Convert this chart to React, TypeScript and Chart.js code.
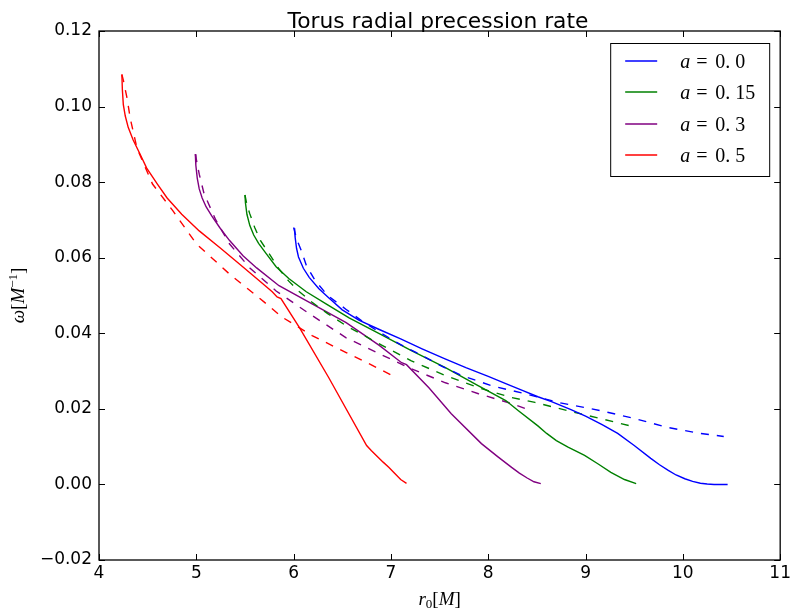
import { useEffect, useRef } from "react";
import Chart from "chart.js/auto";

const TITLE = "Torus radial precession rate";
const X_TICKS = [4, 5, 6, 7, 8, 9, 10, 11];
const Y_TICKS = [-0.02, 0, 0.02, 0.04, 0.06, 0.08, 0.1, 0.12];
const LEGEND_LABELS = ["a = 0.0", "a = 0.15", "a = 0.3", "a = 0.5"];
const COLORS = ["#0000ff", "#008000", "#800080", "#ff0000"];

// a = 0.0
const blueSolidX = [6.01, 6.015, 6.03, 6.05, 6.1, 6.16, 6.26, 6.36, 6.5, 6.67, 6.88, 7.1, 7.32, 7.55, 7.77, 8.0, 8.18, 8.35, 8.51, 8.65, 8.85, 9.0, 9.17, 9.33, 9.5, 9.67, 9.76, 9.85, 9.93, 10.02, 10.1, 10.18, 10.25, 10.32, 10.46];
const blueSolidY = [0.0678, 0.0655, 0.0625, 0.0602, 0.0572, 0.0548, 0.0518, 0.0494, 0.0462, 0.0435, 0.041, 0.0385, 0.0359, 0.0333, 0.0309, 0.0286, 0.0267, 0.0249, 0.0232, 0.0219, 0.0198, 0.0181, 0.0158, 0.0135, 0.0103, 0.0069, 0.0052, 0.0037, 0.0025, 0.0015, 0.0008, 0.0003, 0.0001, 0.0, 0.0];
const blueDashX = [6.0, 6.03, 6.08, 6.13, 6.22, 6.35, 6.54, 6.7, 6.88, 7.1, 7.32, 7.52, 7.73, 8.05, 8.38, 8.72, 9.16, 9.51, 9.84, 10.18, 10.42];
const blueDashY = [0.068, 0.065, 0.0618, 0.058, 0.054, 0.05, 0.0463, 0.0433, 0.0403, 0.037, 0.0341, 0.0313, 0.0288, 0.026, 0.024, 0.0217, 0.0195, 0.0174, 0.0151, 0.0135, 0.0127];

// a = 0.15
const greenSolidX = [5.5, 5.505, 5.52, 5.55, 5.59, 5.64, 5.72, 5.82, 5.95, 6.13, 6.35, 6.57, 6.88, 7.21, 7.56, 7.9, 8.18, 8.31, 8.51, 8.6, 8.7, 8.82, 8.99, 9.13, 9.26, 9.4, 9.52];
const greenSolidY = [0.0766, 0.0745, 0.0715, 0.0685, 0.066, 0.0638, 0.061, 0.0576, 0.0545, 0.051, 0.0475, 0.0441, 0.0399, 0.0354, 0.0309, 0.0261, 0.0222, 0.0195, 0.0155, 0.0135, 0.0116, 0.0099, 0.0077, 0.0054, 0.0032, 0.0013, 0.0002];
const greenDashX = [5.5, 5.52, 5.55, 5.6, 5.66, 5.75, 5.85, 5.95, 6.05, 6.19, 6.35, 6.54, 6.88, 7.21, 7.56, 7.9, 8.24, 8.48, 8.82, 9.16, 9.49];
const greenDashY = [0.0766, 0.074, 0.0716, 0.068, 0.0645, 0.061, 0.057, 0.0538, 0.0512, 0.0482, 0.0452, 0.042, 0.0372, 0.0327, 0.0288, 0.0256, 0.023, 0.0217, 0.0195, 0.0174, 0.0153];

// a = 0.3
const purpleSolidX = [4.99, 4.995, 5.01, 5.03, 5.06, 5.1, 5.16, 5.24, 5.34, 5.48, 5.62, 5.85, 6.19, 6.54, 6.88, 7.11, 7.16, 7.39, 7.62, 7.93, 8.1, 8.24, 8.32, 8.4, 8.47, 8.54];
const purpleSolidY = [0.0874, 0.0845, 0.081, 0.0782, 0.0758, 0.0735, 0.071, 0.068, 0.0646, 0.0605, 0.0573, 0.0526, 0.0478, 0.0428, 0.0368, 0.0322, 0.0317, 0.0256, 0.0187, 0.0108, 0.0073, 0.0045, 0.003, 0.0017, 0.0007, 0.0002];
const purpleDashX = [4.99, 5.03, 5.08, 5.2, 5.34, 5.55, 5.82, 6.16, 6.54, 6.88, 7.21, 7.56, 7.9, 8.24, 8.44];
const purpleDashY = [0.0874, 0.0821, 0.0769, 0.07, 0.0637, 0.0573, 0.0512, 0.0452, 0.0388, 0.0346, 0.0306, 0.0269, 0.024, 0.0214, 0.0195];

// a = 0.5
const redSolidX = [4.235, 4.24, 4.25, 4.27, 4.3, 4.35, 4.42, 4.49, 4.6, 4.7, 4.85, 5.03, 5.24, 5.44, 5.62, 5.78, 5.83, 5.87, 6.06, 6.36, 6.75, 6.8, 6.86, 6.92, 6.98, 7.04, 7.1, 7.16];
const redSolidY = [0.1085, 0.1045, 0.1005, 0.0975, 0.0945, 0.0912, 0.0875, 0.0837, 0.0795, 0.0758, 0.0715, 0.0671, 0.0627, 0.0584, 0.0545, 0.051, 0.0496, 0.0492, 0.0415, 0.0283, 0.0103, 0.0089, 0.0074, 0.0059, 0.0045, 0.0029, 0.0013, 0.0003];
const redDashX = [4.235, 4.25, 4.29, 4.32, 4.39, 4.55, 4.76, 5.0, 5.34, 5.72, 5.88, 6.19, 6.54, 6.88, 7.06];
const redDashY = [0.1085, 0.107, 0.102, 0.097, 0.089, 0.0795, 0.0724, 0.0637, 0.0557, 0.0478, 0.0443, 0.0394, 0.0349, 0.0306, 0.0282];

const SERIES = [
  { xs: blueSolidX, ys: blueSolidY, color: 0, dashed: false, label: 0 },
  { xs: blueDashX, ys: blueDashY, color: 0, dashed: true, label: -1 },
  { xs: greenSolidX, ys: greenSolidY, color: 1, dashed: false, label: 1 },
  { xs: greenDashX, ys: greenDashY, color: 1, dashed: true, label: -1 },
  { xs: purpleSolidX, ys: purpleSolidY, color: 2, dashed: false, label: 2 },
  { xs: purpleDashX, ys: purpleDashY, color: 2, dashed: true, label: -1 },
  { xs: redSolidX, ys: redSolidY, color: 3, dashed: false, label: 3 },
  { xs: redDashX, ys: redDashY, color: 3, dashed: true, label: -1 },
];

const SANS = "'DejaVu Sans', sans-serif";
const SERIF = "'Liberation Serif', 'DejaVu Serif', serif";

type Piece = { t: string; f: string; dy?: number };

function drawPieces(ctx: CanvasRenderingContext2D, pieces: Piece[], cx: number, cy: number) {
  let total = 0;
  const widths = pieces.map((p) => {
    ctx.font = p.f;
    const w = ctx.measureText(p.t).width;
    total += w;
    return w;
  });
  let x = cx - total / 2;
  ctx.textAlign = "left";
  ctx.textBaseline = "alphabetic";
  pieces.forEach((p, i) => {
    ctx.font = p.f;
    ctx.fillText(p.t, x, cy + (p.dy || 0));
    x += widths[i];
  });
}

const decorPlugin = {
  id: "decor",
  afterDraw(chart: any) {
    const { ctx, chartArea: a, scales } = chart;
    ctx.save();
    ctx.strokeStyle = "#000";
    ctx.fillStyle = "#000";
    ctx.lineWidth = 1;
    ctx.beginPath();
    X_TICKS.forEach((v) => {
      const px = Math.round(scales.x.getPixelForValue(v)) + 0.5;
      ctx.moveTo(px, a.bottom);
      ctx.lineTo(px, a.bottom - 6);
      ctx.moveTo(px, a.top);
      ctx.lineTo(px, a.top + 6);
    });
    Y_TICKS.forEach((v) => {
      const py = Math.round(scales.y.getPixelForValue(v)) + 0.5;
      ctx.moveTo(a.left, py);
      ctx.lineTo(a.left + 6, py);
      ctx.moveTo(a.right, py);
      ctx.lineTo(a.right - 6, py);
    });
    ctx.stroke();
    ctx.lineWidth = 1.3;
    ctx.strokeRect(a.left, a.top, a.right - a.left, a.bottom - a.top);

    // title
    ctx.font = `21.8px ${SANS}`;
    ctx.textAlign = "center";
    ctx.textBaseline = "alphabetic";
    ctx.fillText(TITLE, 438, 28);

    // x label r0[M]
    drawPieces(
      ctx,
      [
        { t: "r", f: `italic 19px ${SERIF}` },
        { t: "0", f: `13px ${SERIF}`, dy: 3 },
        { t: "[", f: `19px ${SERIF}` },
        { t: "M", f: `italic 19px ${SERIF}` },
        { t: "]", f: `19px ${SERIF}` },
      ],
      (a.left + a.right) / 2,
      605
    );

    // y label ω[M^-1]
    ctx.save();
    ctx.translate(24, (a.top + a.bottom) / 2);
    ctx.rotate(-Math.PI / 2);
    drawPieces(
      ctx,
      [
        { t: "ω", f: `italic 19px ${SERIF}` },
        { t: "[", f: `19px ${SERIF}` },
        { t: "M", f: `italic 19px ${SERIF}` },
        { t: "−1", f: `13px ${SERIF}`, dy: -7 },
        { t: "]", f: `19px ${SERIF}` },
      ],
      0,
      0
    );
    ctx.restore();

    // legend
    const lx = a.right - 170;
    const ly = a.top + 12;
    const lw = 159;
    const lh = 133;
    ctx.fillStyle = "#fff";
    ctx.fillRect(lx, ly, lw, lh);
    ctx.lineWidth = 1;
    ctx.strokeStyle = "#000";
    ctx.strokeRect(lx + 0.5, ly + 0.5, lw, lh);
    const rows = [18, 49, 81, 112];
    LEGEND_LABELS.forEach((lab, i) => {
      const ry = ly + rows[i];
      ctx.strokeStyle = COLORS[i];
      ctx.lineWidth = 1.4;
      ctx.beginPath();
      ctx.moveTo(lx + 15, ry);
      ctx.lineTo(lx + 47, ry);
      ctx.stroke();
      const [lhs, rhs] = lab.split(" = ");
      const [ip, fp] = rhs.split(".");
      ctx.fillStyle = "#000";
      ctx.textAlign = "left";
      ctx.textBaseline = "alphabetic";
      const by = ry + 7;
      ctx.font = `italic 20px ${SERIF}`;
      ctx.fillText(lhs, lx + 70, by);
      ctx.font = `20px ${SERIF}`;
      ctx.fillText("=", lx + 86, by);
      ctx.fillText(ip + ".", lx + 105, by);
      ctx.fillText(fp, lx + 125, by);
    });
    ctx.restore();
  },
};

export default function App() {
  const ref = useRef<HTMLCanvasElement | null>(null);
  useEffect(() => {
    if (!ref.current) return;
    const datasets = SERIES.map((s) => ({
      label: s.label >= 0 ? LEGEND_LABELS[s.label] : "",
      data: s.xs.map((x, i) => ({ x, y: s.ys[i] })),
      borderColor: COLORS[s.color],
      backgroundColor: COLORS[s.color],
      borderWidth: 1.4,
      borderDash: s.dashed ? [8, 8] : [],
      pointRadius: 0,
      showLine: true,
      fill: false,
      tension: 0,
    }));
    const tickFont = { family: "'DejaVu Sans', sans-serif", size: 17 };
    const chart = new Chart(ref.current, {
      type: "scatter",
      data: { datasets },
      plugins: [decorPlugin],
      options: {
        animation: false,
        responsive: false,
        devicePixelRatio: 1,
        layout: { padding: { left: 0, right: 11, top: 31, bottom: 0 } },
        plugins: {
          legend: { display: false },
          title: { display: false },
          tooltip: { enabled: false },
        },
        scales: {
          x: {
            type: "linear",
            min: 4,
            max: 11,
            grid: { display: false, drawTicks: false },
            border: { display: false },
            ticks: { font: tickFont, color: "#000", padding: 3, maxRotation: 0, autoSkip: false },
            afterBuildTicks: (s: any) => {
              s.ticks = X_TICKS.map((v) => ({ value: v }));
            },
            afterFit: (s: any) => {
              s.height = 51;
            },
          },
          y: {
            type: "linear",
            min: -0.02,
            max: 0.12,
            grid: { display: false, drawTicks: false },
            border: { display: false },
            ticks: {
              font: tickFont,
              color: "#000",
              padding: 7,
              autoSkip: false,
              callback: (v: any) => Number(v).toFixed(2).replace("-", "−"),
            },
            afterBuildTicks: (s: any) => {
              s.ticks = Y_TICKS.map((v) => ({ value: v }));
            },
            afterFit: (s: any) => {
              s.width = 99;
            },
          },
        },
      },
    });
    return () => chart.destroy();
  }, []);
  return (
    <div style={{ position: "fixed", left: 0, top: 0, width: 794, height: 611, background: "#fff" }}>
      <canvas ref={ref} width={794} height={611} style={{ width: 794, height: 611 }} />
    </div>
  );
}
